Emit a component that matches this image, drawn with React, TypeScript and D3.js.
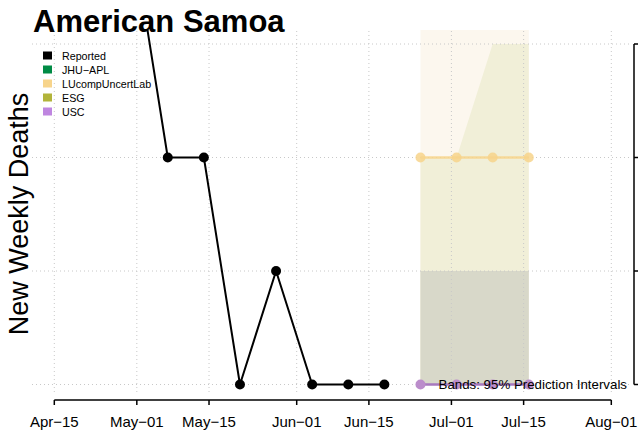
import React from "react";
import * as d3 from "d3";

const W = 638;
const H = 437;

const reportedDates = ["2020-04-30", "2020-05-07", "2020-05-14", "2020-05-21", "2020-05-28", "2020-06-04", "2020-06-11", "2020-06-18"];
const reportedValues = [4, 2, 2, 0, 1, 0, 0, 0];

const forecastDates = ["2020-06-25", "2020-07-02", "2020-07-09", "2020-07-16"];
const lucompValues = [2, 2, 2, 2];
const lucompLower = [0, 0, 0, 0];
const lucompUpper = [6, 7, 8, 9];
const esgLower = [0, 0, 0, 0];
const esgUpper = [2, 2, 3, 3];
const uscValues = [0, 0, 0, 0];
const uscLower = [0, 0, 0, 0];
const uscUpper = [1, 1, 1, 1];

const xTickDates = ["2020-04-15", "2020-05-01", "2020-05-15", "2020-06-01", "2020-06-15", "2020-07-01", "2020-07-15", "2020-08-01"];
const xTickLabels = ["Apr\u221215", "May\u221201", "May\u221215", "Jun\u221201", "Jun\u221215", "Jul\u221201", "Jul\u221215", "Aug\u221201"];
const yTicks = [0, 1, 2, 3];

const legendNames = ["Reported", "JHU\u2212APL", "LUcompUncertLab", "ESG", "USC"];
const legendColors = ["#000000", "#008B45", "#F7D48B", "#B2B43A", "#BF86E0"];

const parse = (s: string) => new Date(s + "T00:00:00Z");

export default function App() {
  const x = d3.scaleUtc().domain([parse("2020-04-15"), parse("2020-08-01")]).range([54.3, 611.3]);
  const y = d3.scaleLinear().domain([0, 3]).range([384.5, 44]);

  const clip = { x0: 32, x1: 634, y0: 30, y1: 400 };

  const band = (lo: number[], hi: number[]) =>
    d3
      .area<number>()
      .x((_, i) => x(parse(forecastDates[i])))
      .y0((_, i) => y(lo[i]))
      .y1((_, i) => y(hi[i]))(lo.map((_, i) => i)) || "";

  const line = (dates: string[], vals: number[]) =>
    d3
      .line<number>()
      .x((_, i) => x(parse(dates[i])))
      .y((v) => y(v))(vals) || "";

  const font = "Liberation Sans, Arial, Helvetica, sans-serif";

  return (
    <svg width={W} height={H} style={{ position: "absolute", left: 0, top: 0, background: "#fff" }} fontFamily={font}>
      <defs>
        <clipPath id="plotclip">
          <rect x={clip.x0} y={clip.y0} width={clip.x1 - clip.x0} height={clip.y1 - clip.y0} />
        </clipPath>
      </defs>
      <g clipPath="url(#plotclip)">
        <path d={band(lucompLower, lucompUpper)} fill="#FCF7EE" />
        <path d={band(esgLower, esgUpper)} fill="#F1EFD8" />
        <path d={band(uscLower, uscUpper)} fill="#D8D8C9" />
      </g>
      {/* grid */}
      {yTicks.map((t) => (
        <line key={"gy" + t} x1={32} x2={632} y1={y(t)} y2={y(t)} stroke="#c8c8c8" strokeWidth={1} strokeDasharray="1,3" />
      ))}
      {xTickDates.map((d) => (
        <line key={"gx" + d} x1={x(parse(d))} x2={x(parse(d))} y1={31} y2={393} stroke="#c8c8c8" strokeWidth={1} strokeDasharray="1,3" />
      ))}
      <g clipPath="url(#plotclip)">
        {/* LUcomp */}
        <path d={line(forecastDates, lucompValues)} fill="none" stroke="#F7D48B" strokeOpacity={0.85} strokeWidth={2.5} />
        {lucompValues.map((v, i) => (
          <circle key={"lu" + i} cx={x(parse(forecastDates[i]))} cy={y(v)} r={5} fill="#F7D48B" fillOpacity={0.85} />
        ))}
        {/* USC */}
        <path d={line(forecastDates, uscValues)} fill="none" stroke="#A778BE" strokeWidth={2.5} />
        {uscValues.map((v, i) => (
          <circle key={"usc" + i} cx={x(parse(forecastDates[i]))} cy={y(v)} r={5} fill="#BB8DCB" />
        ))}
        {/* Reported */}
        <path d={line(reportedDates, reportedValues)} fill="none" stroke="#000" strokeWidth={2} />
        {reportedValues.map((v, i) => (
          <circle key={"rep" + i} cx={x(parse(reportedDates[i]))} cy={y(v)} r={5} fill="#000" />
        ))}
      </g>
      {/* bands note */}
      <text x={627} y={389} textAnchor="end" fontSize={13.3} fill="#000">
        Bands: 95% Prediction Intervals
      </text>
      {/* x axis */}
      <line x1={x(parse(xTickDates[0]))} x2={x(parse(xTickDates[xTickDates.length - 1]))} y1={400} y2={400} stroke="#000" strokeWidth={1.5} />
      {xTickDates.map((d, i) => (
        <g key={"xt" + d}>
          <line x1={x(parse(d))} x2={x(parse(d))} y1={400} y2={405} stroke="#000" strokeWidth={1.5} />
          <text x={x(parse(d))} y={427} textAnchor="middle" fontSize={15} fill="#000">
            {xTickLabels[i]}
          </text>
        </g>
      ))}
      {/* right y axis */}
      <line x1={634} x2={634} y1={y(3)} y2={y(0)} stroke="#000" strokeWidth={1.5} />
      {yTicks.map((t) => (
        <line key={"yt" + t} x1={634} x2={642} y1={y(t)} y2={y(t)} stroke="#000" strokeWidth={1.5} />
      ))}
      {/* y label */}
      <text transform="translate(28,214) rotate(-90)" textAnchor="middle" fontSize={27} fill="#000">
        New Weekly Deaths
      </text>
      {/* title */}
      <text x={33} y={32} fontSize={31} fontWeight="bold" fill="#000">
        American Samoa
      </text>
      {/* legend */}
      {legendNames.map((n, i) => (
        <g key={"lg" + n}>
          <rect x={43} y={51.5 + i * 14} width={9} height={8} fill={legendColors[i]} />
          <text x={62} y={59.5 + i * 14} fontSize={10.7} fill="#000">
            {n}
          </text>
        </g>
      ))}
    </svg>
  );
}
